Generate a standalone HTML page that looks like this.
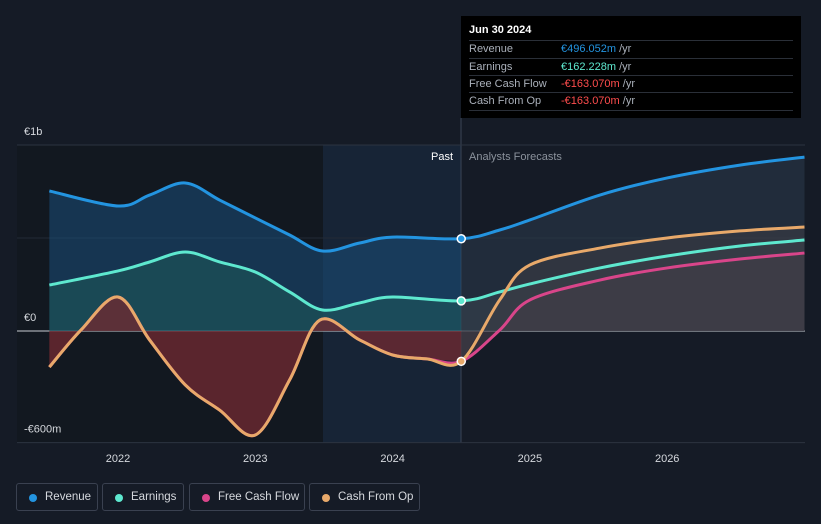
<!DOCTYPE html>
<html><head><meta charset="utf-8">
<style>
body{margin:0;background:#151b26;font-family:"Liberation Sans",sans-serif;}
#wrap{position:relative;width:821px;height:524px;overflow:hidden;background:#151b26;}
svg{position:absolute;left:0;top:0}
.leg{position:absolute;top:483px;height:28px;border:1px solid #3a4150;border-radius:3px;color:#d6d9de;font-size:11.5px;line-height:27px;box-sizing:border-box;padding-left:28px}
.leg i{position:absolute;left:12px;top:10px;width:8px;height:8px;border-radius:50%}
#tip{position:absolute;left:461px;top:16px;width:340px;height:102px;background:#000;color:#fff;font-size:11px}
#tip .r{position:absolute;left:8px;width:324px;height:17px;border-top:1px solid #2a2f38;line-height:17px;color:#aab0ba}
#tip .r span{position:absolute;left:92px}
</style></head><body>
<div id="wrap">
<svg id="svg" width="821" height="524"></svg>
<div id="tip">
 <div style="position:absolute;left:8px;top:8px;font-weight:bold;font-size:11px">Jun 30 2024</div>
 <div class="r" style="top:24px">Revenue<span><b style="color:#2394e0;font-weight:normal">€496.052m</b> /yr</span></div>
 <div class="r" style="top:42px">Earnings<span><b style="color:#5ee8cf;font-weight:normal">€162.228m</b> /yr</span></div>
 <div class="r" style="top:59px">Free Cash Flow<span><b style="color:#ff4d4d;font-weight:normal">-€163.070m</b> /yr</span></div>
 <div class="r" style="top:76px;border-bottom:1px solid #2a2f38">Cash From Op<span><b style="color:#ff4d4d;font-weight:normal">-€163.070m</b> /yr</span></div>
</div>
<div class="leg" style="left:16px;width:82px"><i style="background:#2394e0"></i>Revenue</div>
<div class="leg" style="left:102px;width:82px"><i style="background:#5ee8cf"></i>Earnings</div>
<div class="leg" style="left:189px;width:116px"><i style="background:#d9458a"></i>Free Cash Flow</div>
<div class="leg" style="left:309px;width:111px"><i style="background:#e8a96a"></i>Cash From Op</div>
</div>
<script>
const revX=[2021.5,2022,2022.23,2022.49,2022.74,2023,2023.25,2023.49,2023.76,2024,2024.5,2024.78,2025,2025.51,2026,2026.53,2027];
const revY=[753,672,731,796,704,608,516,430,473,505,496,543,597,731,823,892,935];
const earnX=[2021.5,2022,2022.23,2022.49,2022.74,2023,2023.25,2023.49,2023.76,2024,2024.5,2024.78,2025,2025.51,2026,2026.53,2027];
const earnY=[247,323,371,425,371,317,210,113,151,183,162,210,253,339,403,457,489];
const cfoX=[2021.5,2021.73,2022,2022.23,2022.49,2022.74,2023,2023.25,2023.47,2023.76,2024,2024.25,2024.5,2024.78,2025,2025.51,2026,2026.53,2027];
const cfoY=[-194,5,183,-48,-290,-425,-559,-263,59,-48,-129,-150,-163,167,355,446,500,538,559];
const fcfX=[2021.5,2021.73,2022,2022.23,2022.49,2022.74,2023,2023.25,2023.47,2023.76,2024,2024.25,2024.5,2024.78,2025,2025.51,2026,2026.53,2027];
const fcfY=[-194,5,183,-48,-290,-425,-559,-263,59,-48,-129,-150,-163,5,167,274,339,387,419];
const yTicks=[1000,0,-600];const yLabels=["€1b","€0","-€600m"];
const xTicks=[2022,2023,2024,2025,2026];
const sx=v=>118+(v-2022)*137.3;
const sy=v=>331-v*0.186;
const NS="http://www.w3.org/2000/svg";
const svg=document.getElementById('svg');
function mk(t,a){const e=document.createElementNS(NS,t);for(const k in a)e.setAttribute(k,a[k]);svg.appendChild(e);return e;}
function path(xs,ys){const p=xs.map((x,i)=>[sx(x),sy(ys[i])]);let d="M"+p[0];for(let i=0;i<p.length-1;i++){const p0=p[i-1]||p[i],p1=p[i],p2=p[i+1],p3=p[i+2]||p2;d+=`C${p1[0]+(p2[0]-p0[0])/6},${p1[1]+(p2[1]-p0[1])/6} ${p2[0]-(p3[0]-p1[0])/6},${p2[1]-(p3[1]-p1[1])/6} ${p2[0]},${p2[1]}`;}return d;}
function split(xs,ys,past){const a=[],b=[];xs.forEach((x,i)=>{if(past?x<=2024.5:x>=2024.5){a.push(x);b.push(ys[i]);}});return[a,b];}
let r=mk('rect',{x:17,y:145,width:306,height:298,fill:'#121820'});
r=mk('rect',{x:323,y:145,width:138,height:298,fill:'#172436'});
let l=mk('line',{x1:461,y1:118,x2:461,y2:443,stroke:'#3a4556'});
yTicks.forEach((v,i)=>{let g=mk('line',{x1:17,x2:805,y1:sy(v),y2:sy(v),stroke:v==0?'#c8ccd2':'#2c3340'});
let t=mk('text',{x:24,y:sy(v)-10,fill:'#d6d9de','font-size':11});t.textContent=yLabels[i];});
l=mk('line',{x1:17,x2:805,y1:sy(500),y2:sy(500),stroke:'#232a36'});
xTicks.forEach(v=>{let t=mk('text',{x:sx(v),y:462,fill:'#d6d9de','font-size':11,'text-anchor':'middle'});t.textContent=v;});
let t=mk('text',{x:453,y:160,fill:'#fff','font-size':11,'text-anchor':'end'});t.textContent='Past';
t=mk('text',{x:469,y:160,fill:'#8b929c','font-size':11});t.textContent='Analysts Forecasts';
const series=[[revX,revY,'#2394e0','revenue',['#1a4f7a','#2b3a4c']],[earnX,earnY,'#5ee8cf','earnings',['#1f5a5a','#3a4650']],[fcfX,fcfY,'#d9458a','fcf',['#6e2a35','#4a3e4a']],[cfoX,cfoY,'#e8a96a','cfo',['#6e2a30','#3e3e46']]];
series.forEach(s=>{[true,false].forEach(past=>{const [a,b]=split(s[0],s[1],past);const d=path(a,b);
let f=mk('path',{d:d+`L${sx(a[a.length-1])},${sy(0)}L${sx(a[0])},${sy(0)}Z`,fill:past?s[4][0]:s[4][1],'fill-opacity':0.55});});});
series.forEach(s=>{let p=mk('path',{d:path(s[0],s[1]),fill:'none',stroke:s[2],'stroke-width':3});});
[[496,'#2394e0'],[162,'#5ee8cf'],[-163,'#e8a96a']].forEach(m=>{let c=mk('circle',{cx:sx(2024.5),cy:sy(m[0]),r:4,fill:m[1],stroke:'#fff','stroke-width':1.5});});
</script>
</body></html>
